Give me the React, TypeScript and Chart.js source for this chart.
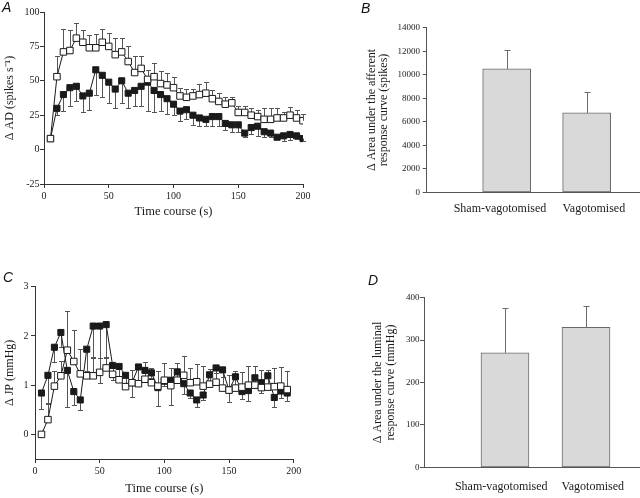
import React, { useEffect, useRef } from 'react';
import { Chart, registerables } from 'chart.js';

Chart.register(...registerables);

// ---------- Data ----------
const timeA = [5, 10, 15, 20, 25, 30, 35, 40, 45, 50, 55, 60, 65, 70, 75, 80, 85, 90, 95, 100, 105, 110, 115, 120, 125, 130, 135, 140, 145, 150, 155, 160, 165, 170, 175, 180, 185, 190, 195, 200];
const shamAD = [8, 53, 71, 72, 81, 78, 74, 74, 78, 75, 69, 71, 64, 56, 59, 51, 53, 48, 47, 45, 39, 38, 39, 40, 41, 37, 35, 33, 34, 27, 27, 25, 24, 22, 22, 23, 23, 25, 23, 21];
const shamADErr = [0, 15, 17, 15, 11, 9, 9, 10, 10, 10, 12, 10, 11, 12, 9, 7, 10, 9, 9, 8, 6, 6, 5, 8, 8, 6, 6, 5, 4, 5, 5, 5, 5, 8, 8, 7, 4, 6, 6, 5];
const vagoAD = [8, 30, 40, 45, 46, 39, 41, 58, 54, 49, 44, 50, 41, 43, 46, 49, 43, 40, 37, 33, 28, 29, 25, 23, 22, 24, 24, 19, 18, 18, 12, 16, 17, 13, 12, 9, 10, 11, 10, 8];
const vagoADErr = [0, 5, 12, 13, 11, 12, 12, 18, 16, 15, 14, 16, 11, 11, 14, 21, 16, 12, 11, 8, 7, 7, 7, 6, 5, 7, 7, 5, 5, 5, 3, 5, 7, 4, 3, 1, 4, 4, 2, 2];

const timeC = [5, 10, 15, 20, 25, 30, 35, 40, 45, 50, 55, 60, 65, 70, 75, 80, 85, 90, 95, 100, 105, 110, 115, 120, 125, 130, 135, 140, 145, 150, 155, 160, 165, 170, 175, 180, 185, 190, 195];
const shamJP = [0, 0.30, 0.98, 1.19, 1.71, 1.48, 1.23, 1.19, 1.19, 1.26, 1.35, 1.22, 1.11, 0.97, 1.05, 1.03, 1.12, 1.05, 0.98, 1.10, 0.99, 1.10, 1.20, 1.05, 1.07, 0.98, 1.02, 1.06, 0.94, 0.90, 0.94, 0.96, 1.00, 1.00, 0.95, 0.96, 0.97, 0.98, 0.91];
const shamJPErr = [0, 0.32, 0.3, 0.3, 0.8, 0.64, 0.5, 0.55, 0.38, 0.3, 0.2, 0.2, 0.3, 0.25, 0.25, 0.3, 0.35, 0.3, 0.3, 0.35, 0.35, 0.35, 0.4, 0.3, 0.35, 0.4, 0.3, 0.35, 0.35, 0.3, 0.35, 0.3, 0.38, 0.38, 0.35, 0.35, 0.38, 0.38, 0.37];
const vagoJP = [0.84, 1.20, 1.77, 2.07, 1.30, 0.87, 0.70, 1.73, 2.20, 2.20, 2.23, 1.40, 1.38, 1.20, 1.05, 1.37, 1.30, 1.25, 0.95, 1.08, 1.10, 1.27, 1.03, 0.84, 0.70, 0.80, 1.21, 1.35, 1.31, 0.90, 1.17, 0.87, 0.89, 1.15, 1.05, 1.19, 0.75, 0.88, 0.84];
const vagoJPErr = [0.32, 0.56, 0.3, 0.3, 0.75, 0.27, 0.2, 0.45, 0.65, 1.15, 0.65, 0.3, 0.2, 0.15, 0.3, 0.3, 0.2, 0.1, 0.38, 0.1, 0.5, 0.2, 0.2, 0.1, 0.15, 0.1, 0.15, 0.1, 0.15, 0.25, 0.2, 0.15, 0.22, 0.2, 0.2, 0.2, 0.2, 0.15, 0.17];

const timeTicks = [0, 50, 100, 150, 200];
const adTicks = [-25, 0, 25, 50, 75, 100];
const jpTicks = [0, 1, 2, 3];

const barCategories = ['Sham-vagotomised', 'Vagotomised'];
const barPositions = [1, 2];
const afferentArea = [10500, 6750];
const afferentErr = [1600, 1770];
const afferentTicks = [0, 2000, 4000, 6000, 8000, 10000, 12000, 14000];
const luminalArea = [270, 330];
const luminalErr = [105, 51];
const luminalTicks = [0, 100, 200, 300, 400];

// ---------- Helpers ----------
const SERIF = "'Liberation Serif', 'Times New Roman', serif";
const INK = '#1a1a1a';
const AXIS = '#333333';

type ErrSet = { datasetIndex: number; errs: number[]; dir: number };

function errorBarPlugin(sets: ErrSet[], color: string, cap: number, after: boolean) {
  const draw = (chart: any) => {
    const ctx = chart.ctx;
    const xs = chart.scales.x;
    const ys = chart.scales.y;
    ctx.save();
    ctx.strokeStyle = color;
    ctx.lineWidth = 1;
    for (const s of sets) {
      const ds = chart.data.datasets[s.datasetIndex];
      ds.data.forEach((pt: any, i: number) => {
        const e = s.errs[i];
        if (!e) return;
        const x = Math.round(xs.getPixelForValue(pt.x)) + 0.5;
        const y0 = ys.getPixelForValue(pt.y);
        const y1 = Math.round(ys.getPixelForValue(pt.y + s.dir * e)) + 0.5;
        ctx.beginPath();
        ctx.moveTo(x, y0);
        ctx.lineTo(x, y1);
        ctx.moveTo(x - cap, y1);
        ctx.lineTo(x + cap, y1);
        ctx.stroke();
      });
    }
    ctx.restore();
  };
  return {
    id: 'errorBars',
    beforeDatasetsDraw(chart: any) { if (!after) draw(chart); },
    afterDatasetsDraw(chart: any) { if (after) draw(chart); },
  };
}

const fixedTicks = (vals: number[]) => (s: any) => { s.ticks = vals.map((v) => ({ value: v })); };

function lineConfig(opts: {
  times: number[]; open: number[]; openErr: number[]; filled: number[]; filledErr: number[];
  yMin: number; yMax: number; yTicks: number[]; yTitle: string;
  padTop: number; padRight: number; yWidth: number; xHeight: number;
  yTickPad: number; xTickPad: number; xTitlePadBottom: number; yTitlePadTop: number;
}) {
  const openData = opts.times.map((t, i) => ({ x: t, y: opts.open[i] }));
  const filledData = opts.times.map((t, i) => ({ x: t, y: opts.filled[i] }));
  return {
    type: 'line',
    data: {
      datasets: [
        {
          data: openData, borderColor: INK, borderWidth: 1, tension: 0,
          pointStyle: 'rect', pointRadius: 4.6, pointBackgroundColor: '#ffffff',
          pointBorderColor: INK, pointBorderWidth: 1,
        },
        {
          data: filledData, borderColor: INK, borderWidth: 1, tension: 0,
          pointStyle: 'rect', pointRadius: 4.3, pointBackgroundColor: INK,
          pointBorderColor: INK, pointBorderWidth: 1,
        },
      ],
    },
    options: {
      animation: false, responsive: false, devicePixelRatio: 1, events: [],
      layout: { padding: { top: opts.padTop, right: opts.padRight, bottom: 0, left: 0 } },
      plugins: { legend: { display: false }, tooltip: { enabled: false } },
      scales: {
        x: {
          type: 'linear', min: 0, max: 200,
          afterBuildTicks: fixedTicks(timeTicks),
          afterFit: (s: any) => { s.height = opts.xHeight; },
          grid: { drawOnChartArea: false, tickLength: 4, color: AXIS },
          border: { color: AXIS, width: 1 },
          ticks: { font: { family: SERIF, size: 10 }, color: INK, padding: opts.xTickPad, maxRotation: 0, autoSkip: false,
            callback: (v: any) => String(v) },
          title: { display: true, text: 'Time course (s)', font: { family: SERIF, size: 12.5 }, color: INK, padding: { top: 0, bottom: opts.xTitlePadBottom } },
        },
        y: {
          type: 'linear', min: opts.yMin, max: opts.yMax,
          afterBuildTicks: fixedTicks(opts.yTicks),
          afterFit: (s: any) => { s.width = opts.yWidth; },
          grid: { drawOnChartArea: false, tickLength: 4, color: AXIS },
          border: { color: AXIS, width: 1 },
          ticks: { font: { family: SERIF, size: 10 }, color: INK, padding: opts.yTickPad, callback: (v: any) => String(v) },
          title: { display: true, text: opts.yTitle, font: { family: SERIF, size: 12 }, color: INK, padding: { top: opts.yTitlePadTop, bottom: 0 } },
        },
      },
    },
    plugins: [errorBarPlugin([
      { datasetIndex: 0, errs: opts.openErr, dir: 1 },
      { datasetIndex: 1, errs: opts.filledErr, dir: -1 },
    ], '#555555', 2.5, false)],
  };
}

function barConfig(opts: {
  values: number[]; errs: number[]; yMax: number; yTicks: number[]; yTitle: string[];
  padTop: number; yWidth: number; xHeight: number; yTickPad: number; xTickPad: number;
  yTitlePadTop: number; yTitleLH: number; labelAt: number[];
}) {
  return {
    type: 'bar',
    data: {
      datasets: [{
        data: barPositions.map((p, i) => ({ x: p, y: opts.values[i] })),
        backgroundColor: '#d9d9d9', borderColor: '#6a6a6a', borderWidth: 1,
        borderSkipped: false, barThickness: 48,
      }],
    },
    options: {
      animation: false, responsive: false, devicePixelRatio: 1, events: [],
      layout: { padding: { top: opts.padTop, right: 0, bottom: 0, left: 0 } },
      plugins: { legend: { display: false }, tooltip: { enabled: false } },
      scales: {
        x: {
          type: 'linear', min: 0, max: 2.667, offset: false,
          afterBuildTicks: fixedTicks(opts.labelAt),
          afterFit: (s: any) => { s.height = opts.xHeight; },
          grid: { display: false, offset: false },
          border: { color: '#555555', width: 1 },
          ticks: { font: { family: SERIF, size: 12 }, color: INK, padding: opts.xTickPad, maxRotation: 0, autoSkip: false,
            callback: (_v: any, i: number) => barCategories[i] },
        },
        y: {
          type: 'linear', min: 0, max: opts.yMax,
          afterBuildTicks: fixedTicks(opts.yTicks),
          afterFit: (s: any) => { s.width = opts.yWidth; },
          grid: { drawOnChartArea: false, tickLength: 4, color: '#555555' },
          border: { color: '#555555', width: 1 },
          ticks: { font: { family: SERIF, size: 9 }, color: INK, padding: opts.yTickPad, callback: (v: any) => String(v) },
          title: { display: true, text: opts.yTitle, font: { family: SERIF, size: 12, lineHeight: opts.yTitleLH }, color: INK, padding: { top: opts.yTitlePadTop, bottom: 0 } },
        },
      },
    },
    plugins: [errorBarPlugin([{ datasetIndex: 0, errs: opts.errs, dir: 1 }], '#6a6a6a', 3, true)],
  };
}

function Panel(props: { left: number; top: number; width: number; height: number; make: () => any }) {
  const ref = useRef<HTMLCanvasElement>(null);
  useEffect(() => {
    const chart = new Chart(ref.current as HTMLCanvasElement, props.make());
    return () => chart.destroy();
  }, []);
  return (
    <canvas
      ref={ref}
      width={props.width}
      height={props.height}
      style={{ position: 'absolute', left: props.left, top: props.top, width: props.width, height: props.height }}
    />
  );
}

function Letter(props: { text: string; left: number; top: number }) {
  return (
    <div style={{
      position: 'absolute', left: props.left, top: props.top,
      fontFamily: "'Liberation Sans', Arial, sans-serif", fontStyle: 'italic',
      fontSize: 14, lineHeight: '14px', color: '#111',
    }}>{props.text}</div>
  );
}

export default function App() {
  return (
    <div style={{ position: 'absolute', left: 0, top: 0, width: 640, height: 498, background: '#ffffff', overflow: 'hidden' }}>
      <Panel left={0} top={0} width={320} height={230} make={() => lineConfig({
        times: timeA, open: shamAD, openErr: shamADErr, filled: vagoAD, filledErr: vagoADErr,
        yMin: -25, yMax: 100, yTicks: adTicks, yTitle: 'Δ AD (spikes s⁻¹)',
        padTop: 12, padRight: 17, yWidth: 44, xHeight: 46,
        yTickPad: 0.5, xTickPad: 2, xTitlePadBottom: 10.8, yTitlePadTop: 2.8,
      })} />
      <Panel left={0} top={250} width={320} height={248} make={() => lineConfig({
        times: timeC, open: shamJP, openErr: shamJPErr, filled: vagoJP, filledErr: vagoJPErr,
        yMin: -0.5, yMax: 3, yTicks: jpTicks, yTitle: 'Δ JP (mmHg)',
        padTop: 36.7, padRight: 26.3, yWidth: 35, xHeight: 39,
        yTickPad: 2.5, xTickPad: 2, xTitlePadBottom: 1.8, yTitlePadTop: 2.8,
      })} />
      <Panel left={320} top={0} width={320} height={250} make={() => barConfig({
        values: afferentArea, errs: afferentErr, yMax: 14000, yTicks: afferentTicks,
        yTitle: ['Δ Area under the afferent', 'response curve (spikes)'],
        padTop: 27.7, yWidth: 106.7, xHeight: 57.7, yTickPad: 2.7, xTickPad: 1,
        yTitlePadTop: 45.9, yTitleLH: 0.97, labelAt: [0.916, 2.09],
      })} />
      <Panel left={320} top={250} width={320} height={248} make={() => barConfig({
        values: luminalArea, errs: luminalErr, yMax: 400, yTicks: luminalTicks,
        yTitle: ['Δ Area under the luminal', 'response curve (mmHg)'],
        padTop: 47.7, yWidth: 104, xHeight: 30.7, yTickPad: 0.5, xTickPad: 4,
        yTitlePadTop: 51.95, yTitleLH: 1.06, labelAt: [0.954, 2.084],
      })} />
      <Letter text="A" left={2} top={0} />
      <Letter text="B" left={361} top={1} />
      <Letter text="C" left={3} top={270} />
      <Letter text="D" left={368} top={273} />
    </div>
  );
}
